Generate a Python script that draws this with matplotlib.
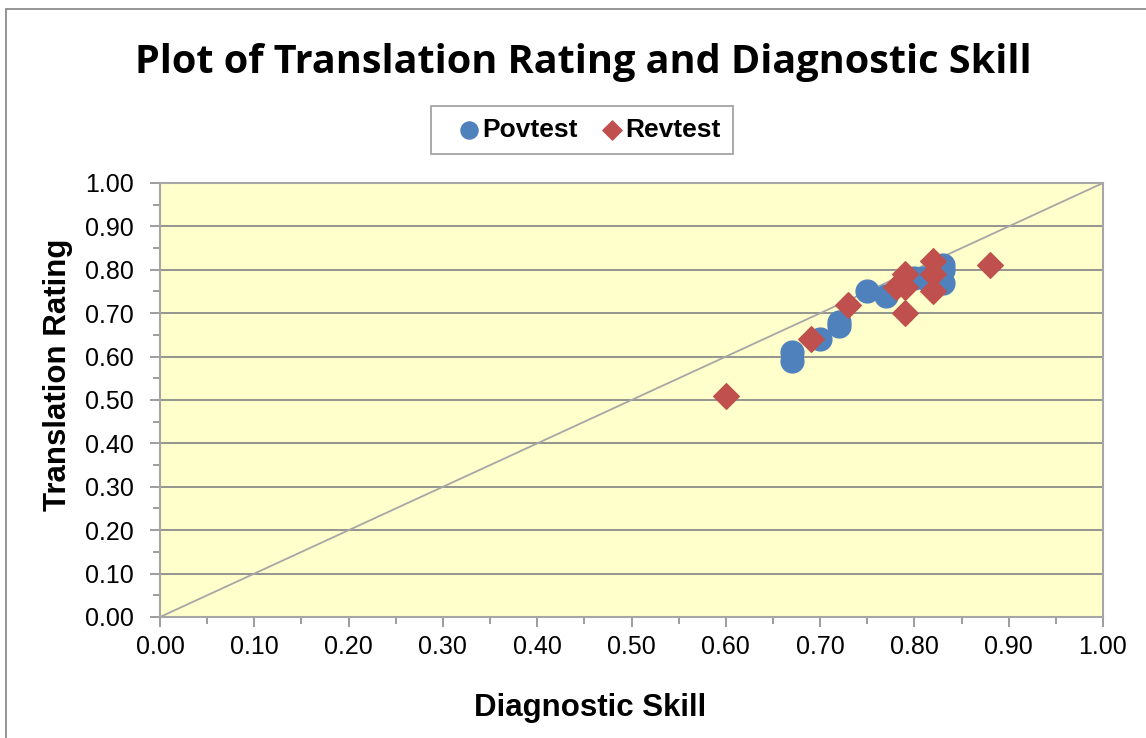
import numpy as np
import matplotlib
matplotlib.use('Agg')
import matplotlib.pyplot as plt
from matplotlib.patches import Rectangle
from matplotlib.ticker import MultipleLocator, FormatStrFormatter

# Povtest points (diagnostic skill, translation rating)
pov_x = [0.67, 0.67, 0.70, 0.72, 0.72, 0.75, 0.77, 0.80, 0.81, 0.83, 0.83, 0.83]
pov_y = [0.61, 0.59, 0.64, 0.68, 0.67, 0.75, 0.74, 0.78, 0.78, 0.81, 0.80, 0.77]

# Revtest points
rev_x = [0.60, 0.69, 0.73, 0.78, 0.79, 0.79, 0.79, 0.82, 0.82, 0.82, 0.88]
rev_y = [0.51, 0.64, 0.72, 0.76, 0.79, 0.76, 0.70, 0.82, 0.79, 0.75, 0.81]

fig = plt.figure(figsize=(11.46, 7.38), dpi=100)
ax = fig.add_axes([160 / 1146, 1 - 617 / 738, 943 / 1146, 434 / 738])
ax.set_facecolor('#ffffcc')

# outer chart border
fig.patches.append(Rectangle((6 / 1146, -0.01), 1.2, 1 - 9 / 738 + 0.01,
                             transform=fig.transFigure, fill=False,
                             edgecolor='#8c8c8c', linewidth=1.3))

ax.set_xlim(0, 1)
ax.set_ylim(0, 1)
ax.yaxis.grid(True, color='#8c8c8c', linewidth=1.3)
ax.set_axisbelow(True)

# 45 degree reference line
ax.plot([0, 1], [0, 1], color='#a6a6a6', linewidth=1.3, zorder=2)

ax.scatter(pov_x, pov_y, s=270, marker='o', color='#4f81bd', label='Povtest', zorder=3)
ax.scatter(rev_x, rev_y, s=170, marker='D', color='#c0504d', label='Revtest', zorder=4)

for sp in ax.spines.values():
    sp.set_color('#a6a6a6')
    sp.set_linewidth(1.5)

ax.xaxis.set_major_locator(MultipleLocator(0.1))
ax.yaxis.set_major_locator(MultipleLocator(0.1))
ax.xaxis.set_minor_locator(MultipleLocator(0.05))
ax.yaxis.set_minor_locator(MultipleLocator(0.05))
ax.xaxis.set_major_formatter(FormatStrFormatter('%.2f'))
ax.yaxis.set_major_formatter(FormatStrFormatter('%.2f'))
ax.tick_params(which='major', length=7, width=1.2, color='#8c8c8c',
               labelsize=18, pad=6)
ax.tick_params(axis='y', which='major', pad=12)
ax.tick_params(which='minor', length=5, width=1.2, color='#8c8c8c')
for lab in ax.get_xticklabels() + ax.get_yticklabels():
    lab.set_fontfamily('Liberation Sans')

ax.set_xlabel('Diagnostic Skill', fontsize=22.5, fontweight='bold',
              family='Liberation Sans')
ax.xaxis.set_label_coords(0.4565, -0.175)
ax.set_ylabel('Translation Rating', fontsize=22.5, fontweight='bold',
              family='Liberation Sans')
ax.yaxis.set_label_coords(-87 / 943, 0.558)

fig.text(0.509, 1 - 62 / 738, 'Plot of Translation Rating and Diagnostic Skill',
         ha='center', va='center', fontsize=28.5, fontweight='bold', family='Open Sans')

leg = ax.legend(loc='center', bbox_to_anchor=(582 / 1146, 1 - 130 / 738),
                bbox_transform=fig.transFigure, ncol=2, frameon=True,
                fancybox=False, edgecolor='#8c8c8c', handletextpad=-0.5,
                columnspacing=0.3, borderpad=0.45, markerscale=0.75,
                prop={'family': 'Liberation Sans', 'weight': 'bold', 'size': 19})
leg.get_frame().set_linewidth(1.3)

fig.savefig('out.png', dpi=100)
